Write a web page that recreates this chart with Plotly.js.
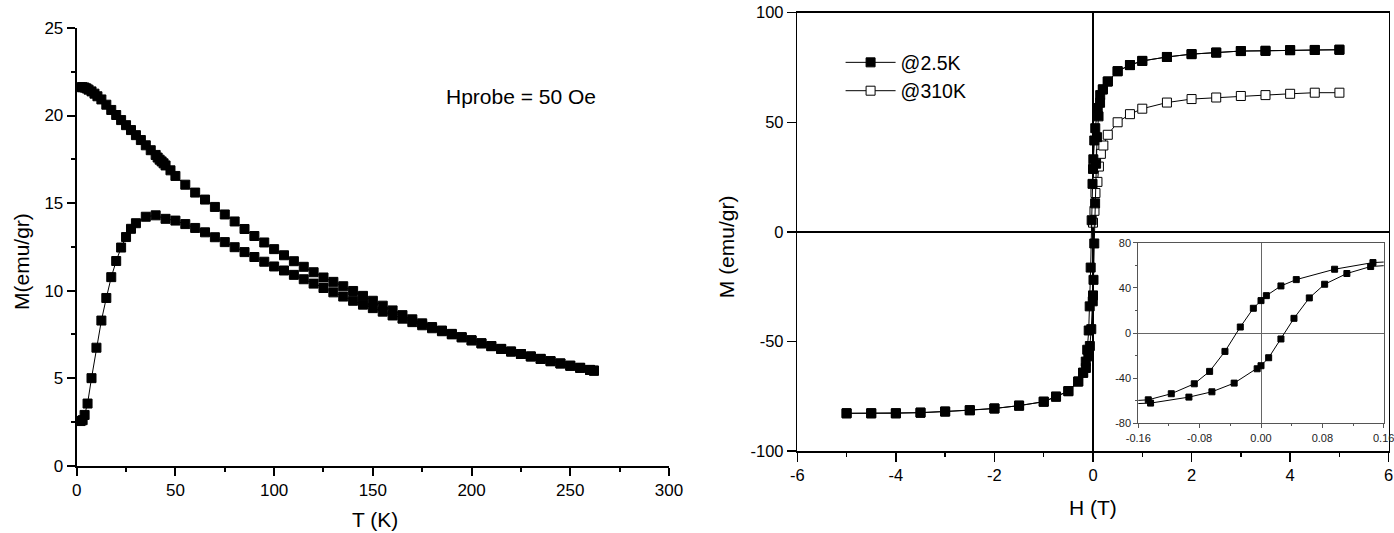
<!DOCTYPE html>
<html>
<head>
<meta charset="utf-8">
<script src="https://cdn.plot.ly/plotly-3.0.1.min.js"></script>
<style>html,body{margin:0;padding:0;background:#fff;}#chart{width:1394px;height:533px;}</style>
</head>
<body>
<div id="chart"></div>
<script>
// ---------- Left panel: M vs T (FC / ZFC), Hprobe = 50 Oe ----------
const fcT = [2, 3, 4, 5, 6, 7.5, 9, 10.5, 12.5, 15, 17.5, 20, 22.5, 25, 27.5, 30, 32.5, 35, 37.5, 40, 41, 42, 43, 44, 45, 47.5, 50,
  55, 60, 65, 70, 75, 80, 85, 90, 95, 100, 105, 110, 115, 120, 125, 130, 135, 140, 145, 150, 155, 160, 165, 170, 175, 180,
  185, 190, 195, 200, 205, 210, 215, 220, 225, 230, 235, 240, 245, 250, 255, 260, 262];
const fcM = [21.62, 21.62, 21.6, 21.55, 21.48, 21.38, 21.25, 21.1, 20.92, 20.62, 20.32, 20.03, 19.74, 19.45, 19.17, 18.88, 18.6, 18.3, 18.02, 17.75, 17.6, 17.48, 17.38, 17.27, 17.15, 16.87, 16.55,
  16.05, 15.6, 15.2, 14.78, 14.35, 13.95, 13.52, 13.12, 12.75, 12.37, 12.02, 11.68, 11.36, 11.05, 10.75, 10.5, 10.25, 9.98, 9.7, 9.42, 9.14, 8.87, 8.6, 8.36, 8.13, 7.92,
  7.72, 7.53, 7.34, 7.16, 6.99, 6.83, 6.67, 6.52, 6.38, 6.24, 6.1, 5.97, 5.84, 5.71, 5.59, 5.47, 5.43];
const zfcT = [2, 3, 4, 5.5, 7.5, 10, 12.5, 15, 17.5, 20, 22.5, 25, 27.5, 30, 35, 40, 45, 50, 55, 60, 65, 70, 75, 80, 85, 90, 95,
  100, 105, 110, 115, 120, 125, 130, 135, 140, 145, 150, 155, 160, 165, 170, 175, 180, 185, 190, 195, 200, 205, 210, 215, 220,
  225, 230, 235, 240, 245, 250, 255, 260, 262];
const zfcM = [2.55, 2.6, 2.9, 3.55, 5.0, 6.74, 8.29, 9.58, 10.77, 11.69, 12.46, 13.06, 13.53, 13.85, 14.22, 14.3, 14.1, 14.0, 13.8, 13.58, 13.33, 13.05, 12.77, 12.48, 12.2, 11.92, 11.65,
  11.38, 11.15, 10.9, 10.65, 10.4, 10.15, 9.9, 9.66, 9.42, 9.2, 9.0, 8.8, 8.58, 8.4, 8.2, 8.02, 7.85, 7.68, 7.5, 7.33, 7.16, 6.99, 6.83, 6.67, 6.52,
  6.38, 6.24, 6.1, 5.97, 5.84, 5.71, 5.59, 5.47, 5.43];
const leftXTicks = [0, 50, 100, 150, 200, 250, 300];
const leftYTicks = [0, 5, 10, 15, 20, 25];
const probeLabel = "Hprobe = 50 Oe";
const leftTitles = ["T (K)", "M(emu/gr)"];

// ---------- Right panel: M vs H hysteresis ----------
// high-field part of the loop at 2.5 K (descending field)
const hiPosH = [5, 4.5, 4, 3.5, 3, 2.5, 2, 1.5, 1, 0.75, 0.5, 0.3, 0.2];
const hiPosM = [83.1, 83.0, 82.9, 82.6, 82.5, 81.8, 81.1, 79.8, 78.0, 76.1, 73.3, 68.6, 65.0];
const hiNegH = [-0.2, -0.3, -0.5, -0.75, -1, -1.5, -2, -2.5, -3, -3.5, -4, -4.5, -5];
const hiNegM = [-64.3, -68.3, -72.7, -75.2, -77.5, -79.3, -80.6, -81.4, -82.0, -82.5, -82.8, -82.8, -82.8];
// low-field loop at 2.5 K (inset)
const downH = [0.18, 0.146, 0.096, 0.046, 0.026, 0.007, 0.0, -0.01, -0.027, -0.047, -0.067, -0.087, -0.117, -0.147, -0.18];
const downM = [63.5, 62.4, 56.5, 47.3, 41.7, 33.1, 28.7, 21.9, 5.3, -16.3, -34.0, -45.0, -53.8, -59.2, -60.5];
const upH = [-0.18, -0.144, -0.094, -0.064, -0.035, -0.005, 0.0, 0.01, 0.026, 0.043, 0.063, 0.083, 0.112, 0.143, 0.18];
const upM = [-63.0, -62.1, -56.8, -52.1, -44.4, -31.7, -29.0, -21.9, -5.3, 13.0, 31.1, 43.2, 52.7, 58.9, 60.5];
// 310 K
const h310 = [0.0, 0.03, 0.05, 0.09, 0.12, 0.16, 0.21, 0.3, 0.5, 0.75, 1, 1.5, 2, 2.5, 3, 3.5, 4, 4.5, 5];
const m310 = [4.2, 9.6, 17.7, 22.8, 29.8, 35.6, 39.4, 44.3, 50.0, 53.7, 56.2, 59.0, 60.6, 61.3, 62.0, 62.4, 63.0, 63.5, 63.5];
const rightXTicks = [-6, -4, -2, 0, 2, 4, 6];
const rightXText = ["-6", "-4", "-2", "0", "2", "4", "6"];
const rightYTicks = [-100, -50, 0, 50, 100];
const rightYText = ["-100", "-50", "0", "50", "100"];
const insetXTicks = [-0.16, -0.08, 0, 0.08, 0.16];
const insetXText = ["-0.16", "-0.08", "0.00", "0.08", "0.16"];
const insetYTicks = [-80, -40, 0, 40, 80];
const insetYText = ["-80", "-40", "0", "40", "80"];
const seriesNames = ["@2.5K", "@310K"];
const rightTitles = ["H (T)", "M (emu/gr)"];

// full 2.5 K loop: descending branch then ascending branch
const loopH = hiPosH.concat(downH.slice(1, -1), hiNegH, hiNegH.slice().reverse(), upH.slice(1, -1), hiPosH.slice().reverse());
const loopM = hiPosM.concat(downM.slice(1, -1), hiNegM, hiNegM.slice().reverse(), upM.slice(1, -1), hiPosM.slice().reverse());

const FONT = "Liberation Sans, Arial, sans-serif";
const sq = (size) => ({symbol: "square", size: size, color: "black", line: {color: "black", width: 1}});

const traces = [
  {x: fcT, y: fcM, xaxis: "x", yaxis: "y", mode: "lines+markers", showlegend: false,
   line: {color: "black", width: 1}, marker: sq(9)},
  {x: zfcT, y: zfcM, xaxis: "x", yaxis: "y", mode: "lines+markers", showlegend: false,
   line: {color: "black", width: 1}, marker: sq(9)},
  {x: h310, y: m310, xaxis: "x2", yaxis: "y2", mode: "lines+markers", name: seriesNames[1], legendrank: 2,
   line: {color: "black", width: 1}, marker: {symbol: "square", size: 9, color: "white", line: {color: "black", width: 1}}},
  {x: loopH, y: loopM, xaxis: "x2", yaxis: "y2", mode: "lines+markers", name: seriesNames[0], legendrank: 1,
   line: {color: "black", width: 1}, marker: sq(9)},
  {x: downH, y: downM, xaxis: "x3", yaxis: "y3", mode: "lines+markers", showlegend: false,
   line: {color: "black", width: 1}, marker: sq(6)},
  {x: upH, y: upM, xaxis: "x3", yaxis: "y3", mode: "lines+markers", showlegend: false,
   line: {color: "black", width: 1}, marker: sq(6)}
];

const W = 1394, H = 533;
const dx = (a, b) => [a / W, b / W];
const dy = (top, bottom) => [(H - bottom) / H, (H - top) / H];
const px = (v) => v / W;
const py = (v) => (H - v) / H;

const baseAxis = {
  showgrid: false, zeroline: false, linecolor: "black", ticks: "outside", tickcolor: "black",
  tickfont: {family: FONT, size: 17, color: "black"}, fixedrange: true
};
const titleFont = {family: FONT, size: 21, color: "black"};

const layout = {
  width: W, height: H,
  margin: {l: 0, r: 0, t: 0, b: 0},
  paper_bgcolor: "white", plot_bgcolor: "white",
  font: {family: FONT, color: "black"},
  showlegend: true,
  legend: {x: 0.603, y: 0.919, xanchor: "left", yanchor: "top", bgcolor: "rgba(0,0,0,0)",
           font: {family: FONT, size: 19.5, color: "black"}, tracegroupgap: 0, itemwidth: 50},
  xaxis: Object.assign({}, baseAxis, {
    domain: dx(76.7, 669), anchor: "y", range: [0, 300], tickvals: leftXTicks, linewidth: 2, tickwidth: 2, ticklen: 8,
    minor: {ticks: "outside", dtick: 25, ticklen: 4, tickwidth: 2, tickcolor: "black"}
  }),
  yaxis: Object.assign({}, baseAxis, {
    domain: dy(28, 465.7), anchor: "x", range: [0, 25], tickvals: leftYTicks, linewidth: 2, tickwidth: 2, ticklen: 8,
    minor: {ticks: "outside", dtick: 2.5, ticklen: 4, tickwidth: 2, tickcolor: "black"}
  }),
  xaxis2: Object.assign({}, baseAxis, {
    domain: dx(797.3, 1388.7), anchor: "y2", range: [-6, 6], tickvals: rightXTicks, ticktext: rightXText,
    tickfont: {family: FONT, size: 16.5, color: "black"},
    linewidth: 1.5, tickwidth: 1.5, ticklen: 9, mirror: true,
    zeroline: true, zerolinecolor: "black", zerolinewidth: 1.5,
    minor: {ticks: "outside", dtick: 1, ticklen: 4, tickwidth: 1.5, tickcolor: "black"}
  }),
  yaxis2: Object.assign({}, baseAxis, {
    domain: dy(12.7, 451), anchor: "x2", range: [-100, 100], tickvals: rightYTicks, ticktext: rightYText,
    tickfont: {family: FONT, size: 16.5, color: "black"},
    linewidth: 1.5, tickwidth: 1.5, ticklen: 9, mirror: true,
    zeroline: true, zerolinecolor: "black", zerolinewidth: 1.5
  }),
  xaxis3: Object.assign({}, baseAxis, {
    domain: dx(1138.3, 1383.7), anchor: "y3", range: [-0.16, 0.16], tickvals: insetXTicks, ticktext: insetXText,
    linecolor: "#555", linewidth: 1, tickcolor: "#555", tickwidth: 1, ticklen: 4, mirror: true,
    zeroline: true, zerolinecolor: "#666", zerolinewidth: 1, ticklabeloverflow: "allow",
    tickfont: {family: FONT, size: 11, color: "#222"},
    minor: {ticks: "outside", dtick: 0.04, ticklen: 2, tickwidth: 1, tickcolor: "#555"}
  }),
  yaxis3: Object.assign({}, baseAxis, {
    domain: dy(242.7, 423.3), anchor: "x3", range: [-80, 80], tickvals: insetYTicks, ticktext: insetYText,
    linecolor: "#555", linewidth: 1, tickcolor: "#555", tickwidth: 1, ticklen: 4, mirror: true,
    zeroline: true, zerolinecolor: "#666", zerolinewidth: 1, ticklabeloverflow: "allow",
    tickfont: {family: FONT, size: 11, color: "#222"},
    minor: {ticks: "outside", dtick: 20, ticklen: 2, tickwidth: 1, tickcolor: "#555"}
  }),
  annotations: [
    {xref: "x", yref: "y", x: 224.8, y: 21.07, text: probeLabel, showarrow: false,
     font: {family: FONT, size: 21, color: "black"}},
    {xref: "paper", yref: "paper", x: px(375), y: py(519), xanchor: "center", yanchor: "middle",
     text: leftTitles[0], showarrow: false, font: titleFont},
    {xref: "paper", yref: "paper", x: px(21), y: py(262), xanchor: "center", yanchor: "middle", textangle: -90,
     text: leftTitles[1], showarrow: false, font: titleFont},
    {xref: "paper", yref: "paper", x: px(1093), y: py(507), xanchor: "center", yanchor: "middle",
     text: rightTitles[0], showarrow: false, font: titleFont},
    {xref: "paper", yref: "paper", x: px(726.6), y: py(246.6), xanchor: "center", yanchor: "middle", textangle: -90,
     text: rightTitles[1], showarrow: false, font: titleFont}
  ]
};

Plotly.newPlot("chart", traces, layout, {staticPlot: true, displayModeBar: false});
</script>
</body>
</html>
